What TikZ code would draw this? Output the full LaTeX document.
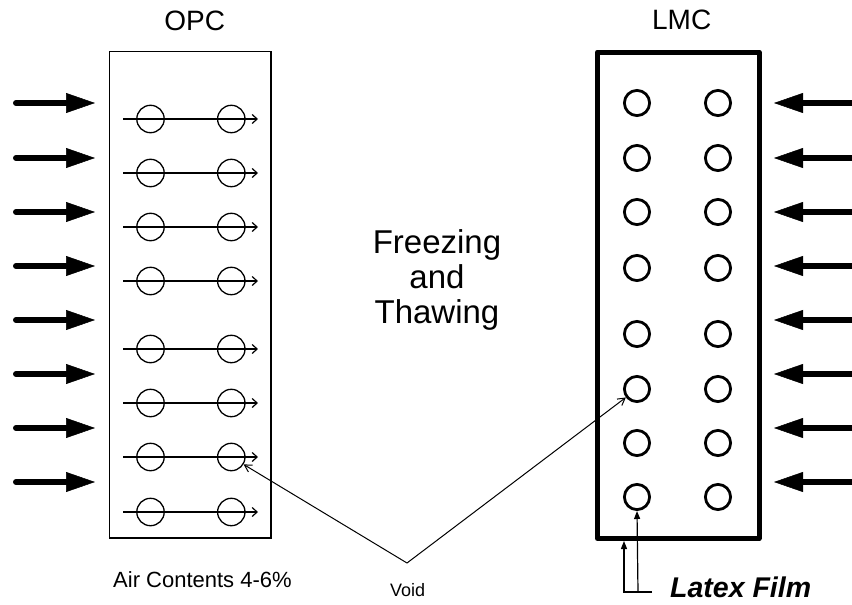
\documentclass[tikz,border=0pt]{standalone}
\usepackage{fontspec}
\setmainfont{Liberation Sans}
\usetikzlibrary{arrows.meta}

\tikzset{
  opcvoid/.style={circle,draw,line width=1.3pt,minimum size=27.4pt,inner sep=0pt},
  lmcvoid/.style={circle,draw,line width=2.8pt,minimum size=25.2pt,inner sep=0pt},
  push/.style={line width=6pt,line cap=round,-{Triangle[length=29pt,width=20pt,line width=0.5pt]}},
  flowline/.style={line width=1.2pt,-{Straight Barb[length=5pt,width=9pt]}},
  pointer/.style={line width=1pt,-{Straight Barb[length=7pt,width=8pt]}},
  filmline/.style={line width=1.2pt,-{Triangle[length=8pt,width=6pt]}},
}

\begin{document}
\begin{tikzpicture}[x=1pt,y=-1pt]
    \useasboundingbox (0,0) rectangle (852,605);
    % the two samples
    \node[draw,line width=1.3pt,minimum width=161.5pt,minimum height=486.5pt,inner sep=0pt] (opc) at (190.25,294.75) {};
    \node[draw,line width=5pt,line join=round,minimum width=161.5pt,minimum height=486.5pt,inner sep=0pt] (lmc) at (678.25,295.25) {};
    \node[anchor=base,font=\fontsize{28}{34}\selectfont] (opctitle) at (194.7,30.5) {OPC};
    \node[anchor=base,font=\fontsize{28}{34}\selectfont] (lmctitle) at (681.7,30) {LMC};
    % voids in OPC, water moves through them
    \foreach \i/\y in {1/119,2/173,3/227,4/281,5/349,6/403,7/457,8/512} {
      \node[opcvoid] (oL\i) at (150.5,\y) {};
      \node[opcvoid] (oR\i) at (231.3,\y) {};
      \coordinate (fs\i) at (123,\y);
      \coordinate (fe\i) at (258,\y);
      \draw[flowline] (fs\i) -- (fe\i);
    }
    % voids in LMC, closed by latex film
    \foreach \i/\y in {1/103,2/158,3/212,4/268,5/334,6/389,7/443,8/497} {
      \node[lmcvoid] (mL\i) at (637,\y) {};
      \node[lmcvoid] (mR\i) at (718,\y) {};
    }
    % freezing and thawing load
    \foreach \i/\y in {1/103,2/158,3/212,4/266,5/320,6/374,7/428,8/482} {
      \coordinate (pa\i) at (16,\y);
      \coordinate (pb\i) at (95,\y);
      \coordinate (qa\i) at (858,\y);
      \coordinate (qb\i) at (774,\y);
      \draw[push] (pa\i) -- (pb\i);
      \draw[push] (qa\i) -- (qb\i);
    }
    \node[align=center,inner sep=0pt,font=\fontsize{33}{35}\selectfont] (ft) at (437,280) {Freezing\\and\\Thawing};
    % labels below
    \node[anchor=base west,inner sep=0pt,font=\fontsize{22}{26}\selectfont] (air) at (113,587) {Air Contents 4-6\%};
    \node[anchor=base west,inner sep=0pt,font=\fontsize{18}{22}\selectfont] (void) at (390,596) {Void};
    \node[anchor=base west,inner sep=0pt,font=\fontsize{28.5}{32}\selectfont\bfseries\itshape] (film) at (670,597) {Latex Film};
    \coordinate (vv) at (407,563);
    \draw[pointer] (vv) -- (oR7);
    \draw[pointer] (vv) -- (mL6);
    \coordinate (fa) at (652,592);
    \coordinate (fb) at (624,592);
    \coordinate (fc) at (638,592);
    \draw[filmline] (fa) -- (fb) -- (fb |- lmc.south);
    \draw[filmline] (fc) -- (mL8.south);
\end{tikzpicture}
\end{document}
